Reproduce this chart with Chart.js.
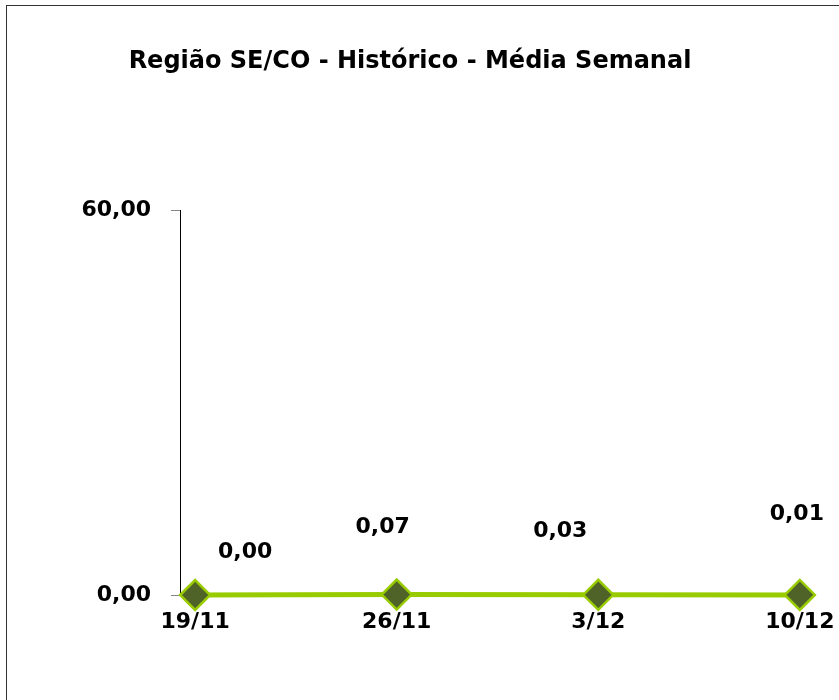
<!DOCTYPE html>
<html>
<head>
<meta charset="utf-8">
<script src="https://cdn.jsdelivr.net/npm/chart.js@4/dist/chart.umd.min.js"></script>
<style>
  html, body { margin: 0; padding: 0; background: #fff; }
  #wrap { position: relative; width: 839px; height: 700px; overflow: hidden; }
  #frame { position: absolute; left: 6px; top: 5px; width: 900px; height: 800px;
           border-left: 1px solid #333; border-top: 1px solid #333; }
  canvas { position: absolute; left: 0; top: 0; }
</style>
</head>
<body>
<div id="wrap">
  <div id="frame"></div>
  <canvas id="c" width="839" height="700"></canvas>
</div>
<script>
const chartTitle = 'Região SE/CO - Histórico - Média Semanal';
const categories = ['19/11', '26/11', '3/12', '10/12'];
const values = [0.00, 0.07, 0.03, 0.01];
const yTicks = [0, 60];
// label placement offsets (px) relative to each point, as in the original layout
const labelOffsets = [[50, -43], [-14, -67], [-38, -64], [-3, -81]];

const FONT = '"DejaVu Sans", "Liberation Sans", Arial, sans-serif';
const fmt = v => v.toFixed(2).replace('.', ',');

const labelPlugin = {
  id: 'valueLabels',
  afterDatasetsDraw(chart) {
    const ctx = chart.ctx;
    const meta = chart.getDatasetMeta(0);
    ctx.save();
    ctx.font = 'bold 22px ' + FONT;
    ctx.fillStyle = '#000';
    ctx.textAlign = 'center';
    ctx.textBaseline = 'middle';
    meta.data.forEach((pt, i) => {
      const off = labelOffsets[i];
      ctx.fillText(fmt(values[i]), pt.x + off[0], pt.y + off[1]);
    });
    ctx.restore();
  }
};

new Chart(document.getElementById('c'), {
  type: 'line',
  data: {
    datasets: [{
      data: values.map((v, i) => ({ x: i, y: v })),
      borderColor: '#99CC00',
      borderWidth: 5,
      backgroundColor: '#4F6228',
      pointStyle: 'rectRot',
      pointRadius: 15,
      pointBackgroundColor: '#4F6228',
      pointBorderColor: '#99CC00',
      pointBorderWidth: 2.5,
      tension: 0,
      fill: false,
      clip: false
    }]
  },
  options: {
    responsive: false,
    animation: false,
    layout: { padding: { left: 0, right: 19, top: 0, bottom: 0 } },
    plugins: {
      legend: { display: false },
      tooltip: { enabled: false },
      title: {
        display: true,
        text: chartTitle,
        color: '#000',
        font: { family: FONT, size: 24, weight: 'bold', lineHeight: 1.25 },
        padding: { top: 47, bottom: 133 }
      }
    },
    scales: {
      x: {
        type: 'linear',
        min: -0.075,
        max: 3.1,
        afterBuildTicks: s => { s.ticks = categories.map((c, i) => ({ value: i })); },
        afterFit: s => { s.height = 105; s.paddingLeft = 0; s.paddingRight = 0; },
        ticks: {
          callback: v => categories[v],
          color: '#000',
          font: { family: FONT, size: 22, weight: 'bold' },
          padding: 14,
          maxRotation: 0,
          autoSkip: false
        },
        grid: { display: false, drawTicks: false },
        border: { display: false }
      },
      y: {
        min: 0,
        max: 60,
        afterBuildTicks: s => { s.ticks = yTicks.map(v => ({ value: v })); },
        afterFit: s => { s.width = 180; s.paddingTop = 0; s.paddingBottom = 0; },
        ticks: {
          callback: v => fmt(v),
          color: '#000',
          font: { family: FONT, size: 22, weight: 'bold' },
          padding: 20
        },
        grid: { drawOnChartArea: false, tickLength: 9, color: '#868686' },
        border: { display: true, color: '#000', width: 1 }
      }
    }
  },
  plugins: [labelPlugin]
});
</script>
</body>
</html>
